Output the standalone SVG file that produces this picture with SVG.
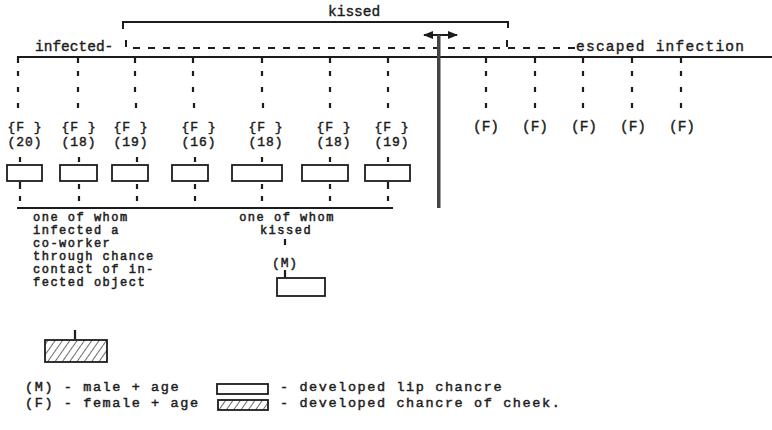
<svg xmlns="http://www.w3.org/2000/svg" width="772" height="430" viewBox="0 0 772 430">
<defs>
<style>
text{font-family:"Liberation Mono","Courier New",monospace;font-size:14.5px;fill:#1c1c1c;stroke:#1c1c1c;stroke-width:0.4}
.c{text-anchor:middle}
.t{font-size:12px;letter-spacing:1.5px;stroke-width:0.5}
.f{font-size:13px;letter-spacing:0.9px;stroke-width:0.45}
.lg{font-size:13.5px;letter-spacing:1.6px;stroke-width:0.45}
.ln{stroke:#1c1c1c;stroke-width:2;fill:none}
.dot{stroke:#1c1c1c;stroke-width:2.2;fill:none}
.box{fill:#fff;stroke:#1c1c1c;stroke-width:1.8}
.hatch{fill:url(#h);stroke:#1c1c1c;stroke-width:1.8}
.dash{stroke:#1c1c1c;stroke-width:2;stroke-dasharray:7 8;fill:none}
</style>
<pattern id="h" patternUnits="userSpaceOnUse" width="6" height="6" patternTransform="rotate(35)"><line x1="0" y1="0" x2="0" y2="6" stroke="#1c1c1c" stroke-width="1.3"/></pattern>
<marker id="ah" viewBox="0 0 10 10" refX="9" refY="5" markerWidth="5" markerHeight="5" orient="auto-start-reverse"><path d="M0,1 L10,5 L0,9 z" fill="#1c1c1c"/></marker>
</defs>
<rect width="772" height="430" fill="#fff"/>

<g id="connectors">
<path class="ln" d="M123,29 V22 H508 V28"/>
<path class="ln" d="M17,57 H772"/>
<path class="dash" d="M133,48 H578"/>
<path class="ln" d="M126,40 V47 M507,40 V47"/>
<path class="ln" d="M424,35 H457" marker-start="url(#ah)" marker-end="url(#ah)"/>
<rect x="437" y="35" width="3.5" height="173" fill="#444"/>
<path class="ln" d="M17,208 H393"/>
<path class="dot" d="M18,57V63M18,71V76M18,87V92M18,103V108M20,157V162M20,182V189M20,196V201
M78,57V63M78,71V76M78,87V92M78,103V108M79,157V162M79,184V189M79,196V201
M135,57V63M135,71V76M135,87V92M136,103V108M137,157V162M137,184V189M137,196V201
M193,57V63M193,71V76M193,87V92M194,103V108M195,157V162M195,184V189M195,196V201
M262,57V63M262,71V76M262,87V92M263,103V108M262,157V162M262,184V189M262,196V201
M330,57V63M330,71V76M330,87V92M330,103V108M330,157V162M330,184V189M330,196V201
M388,57V63M388,71V76M388,87V92M388,103V108M388,157V162M388,182V189M388,196V201
M486,57V63M486,71V76M486,87V92M486,103V108
M535,57V63M535,71V76M535,87V92M535,103V108
M583,57V63M583,71V76M583,87V92M583,103V108
M632,57V63M632,71V76M632,87V92M632,103V108
M681,57V63M681,71V76M681,87V92M681,103V108
M285,239V245M285,270V277M75,330V339"/>
</g>

<g id="headers">
<text x="328" y="16">kissed</text>
<text x="35" y="51">infected-</text>
<text x="576" y="51" textLength="168">escaped infection</text>
</g>

<g id="f20"><text class="c f" x="25" y="131">{F }</text><text class="c f" x="25" y="146">(20)</text><rect class="box" x="7" y="165" width="35" height="16"/></g>
<g id="f18a"><text class="c f" x="79" y="131">{F }</text><text class="c f" x="79" y="146">(18)</text><rect class="box" x="60" y="165" width="37" height="16"/></g>
<g id="f19a"><text class="c f" x="131" y="131">{F }</text><text class="c f" x="131" y="146">(19)</text><rect class="box" x="112" y="165" width="36" height="16"/></g>
<g id="f16"><text class="c f" x="199" y="131">{F }</text><text class="c f" x="199" y="146">(16)</text><rect class="box" x="172" y="165" width="36" height="16"/></g>
<g id="f18b"><text class="c f" x="266" y="131">{F }</text><text class="c f" x="266" y="146">(18)</text><rect class="box" x="232" y="165" width="50" height="16"/></g>
<g id="f18c"><text class="c f" x="334" y="131">{F }</text><text class="c f" x="334" y="146">(18)</text><rect class="box" x="302" y="165" width="46" height="16"/></g>
<g id="f19b"><text class="c f" x="392" y="131">{F }</text><text class="c f" x="392" y="146">(19)</text><rect class="box" x="365" y="165" width="45" height="16"/></g>

<g id="e1"><text class="c" x="486" y="131">(F)</text></g>
<g id="e2"><text class="c" x="535" y="131">(F)</text></g>
<g id="e3"><text class="c" x="584" y="131">(F)</text></g>
<g id="e4"><text class="c" x="633" y="131">(F)</text></g>
<g id="e5"><text class="c" x="682" y="131">(F)</text></g>

<g id="coworker-note">
<text class="t" x="33" y="221">one of whom</text>
<text class="t" x="33" y="234">infected a</text>
<text class="t" x="33" y="247">co-worker</text>
<text class="t" x="33" y="260">through chance</text>
<text class="t" x="33" y="273">contact of in-</text>
<text class="t" x="33" y="286">fected object</text>
</g>
<g id="cheek-chancre"><rect class="hatch" x="45" y="340" width="62" height="22"/></g>

<g id="kissed-note">
<text class="c t" x="287" y="221">one of whom</text>
<text class="c t" x="286" y="234">kissed</text>
</g>
<g id="male"><text class="c f" x="285" y="267">(M)</text><rect class="box" x="277" y="278" width="48" height="18"/></g>

<g id="legend">
<text class="lg" x="25" y="391">(M) - male + age</text>
<text class="lg" x="25" y="407">(F) - female + age</text>
<rect class="box" x="217" y="384" width="51" height="10"/>
<rect class="hatch" x="218" y="400" width="50" height="10"/>
<text class="lg" x="280" y="391">- developed lip chancre</text>
<text class="lg" x="280" y="407">- developed chancre of cheek.</text>
</g>
</svg>
